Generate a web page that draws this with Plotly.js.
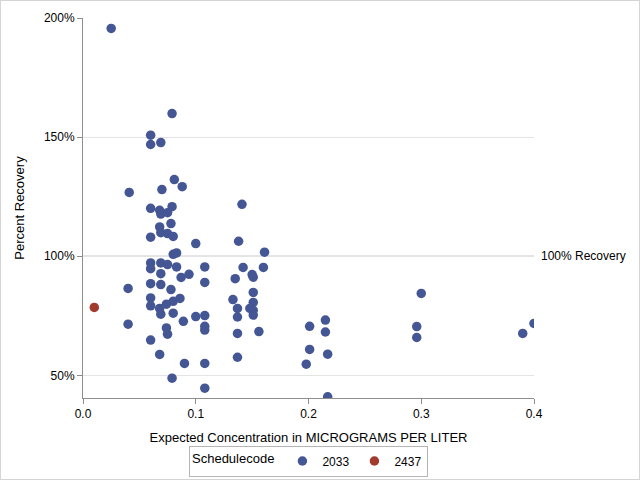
<!DOCTYPE html>
<html>
<head>
<meta charset="utf-8">
<script src="https://cdn.plot.ly/plotly-3.0.1.min.js"></script>
<style>
  html, body { margin: 0; padding: 0; background: #fff; }
  #chart { width: 638px; height: 478px; border: 1px solid #d4d4d4; }
</style>
</head>
<body>
<div id="chart"></div>
<script>
// Schedulecode 2033
const x2033 = [0.025, 0.079, 0.060, 0.060, 0.069, 0.081, 0.088, 0.041, 0.070, 0.141,
  0.060, 0.068, 0.069, 0.075, 0.079, 0.068, 0.078, 0.069, 0.075, 0.080,
  0.060, 0.100, 0.083, 0.080, 0.138, 0.161, 0.060, 0.060, 0.069, 0.075,
  0.083, 0.108, 0.069, 0.087, 0.094, 0.108, 0.060, 0.069, 0.040, 0.078,
  0.060, 0.060, 0.086, 0.080, 0.074, 0.068, 0.069, 0.080, 0.040, 0.089,
  0.100, 0.108, 0.108, 0.108, 0.074, 0.075, 0.060, 0.068, 0.090, 0.108,
  0.079, 0.108, 0.142, 0.160, 0.135, 0.150, 0.151, 0.151, 0.133, 0.151,
  0.137, 0.137, 0.148, 0.151, 0.151, 0.137, 0.156, 0.137, 0.201, 0.215,
  0.215, 0.201, 0.198, 0.217, 0.217, 0.300, 0.296, 0.296, 0.390, 0.400];
const y2033 = [195.6, 159.9, 150.8, 146.9, 147.7, 132.2, 129.2, 126.8, 128.0, 121.8,
  120.1, 119.3, 117.7, 118.3, 120.8, 112.3, 113.7, 109.9, 109.5, 108.3,
  108.0, 105.3, 101.4, 100.8, 106.3, 101.7, 97.2, 94.8, 97.2, 96.5,
  95.5, 95.5, 92.7, 91.1, 92.4, 89.0, 88.5, 88.1, 86.5, 86.0,
  82.5, 79.2, 82.3, 81.1, 79.9, 78.1, 75.7, 76.1, 71.5, 72.7,
  74.7, 75.1, 70.6, 69.0, 69.9, 67.3, 64.8, 58.8, 55.0, 55.0,
  48.8, 44.6, 95.3, 95.3, 90.6, 92.3, 91.2, 84.8, 81.8, 80.6,
  78.1, 74.5, 78.1, 77.3, 75.3, 67.6, 68.4, 57.6, 70.6, 73.2,
  68.2, 60.9, 54.7, 58.9, 41.0, 84.4, 70.5, 65.9, 67.6, 71.8];
// Schedulecode 2437
const x2437 = [0.010];
const y2437 = [78.5];

const seriesNames = ['2033', '2437'];
const seriesColors = ['#445694', '#A23A2E'];
const xTickVals = [0, 0.1, 0.2, 0.3, 0.4];
const xTickText = ['0.0', '0.1', '0.2', '0.3', '0.4'];
const yTickVals = [50, 100, 150, 200];
const yTickText = ['50%', '100%', '150%', '200%'];
const xRange = [0, 0.4];
const yRange = [40.5, 200];
const refValue = 100;
const refLabel = '100% Recovery';

const FONT = 'Liberation Sans, Arial, Helvetica, sans-serif';
const AXIS = '#8e8e8e';

const traces = [
  { x: x2033, y: y2033, name: seriesNames[0], type: 'scatter', mode: 'markers',
    marker: { color: seriesColors[0], size: 9.5, line: { width: 0 } }, cliponaxis: true },
  { x: x2437, y: y2437, name: seriesNames[1], type: 'scatter', mode: 'markers',
    marker: { color: seriesColors[1], size: 9.5, line: { width: 0 } }, cliponaxis: true }
];

const frameAxis = {
  showline: true, linecolor: AXIS, linewidth: 1, mirror: 'all', ticks: '',
  showticklabels: false, showgrid: false, zeroline: false, automargin: false
};

const layout = {
  width: 638, height: 478,
  margin: { l: 82, r: 105, t: 17, b: 81, autoexpand: false },
  paper_bgcolor: '#ffffff', plot_bgcolor: '#ffffff',
  font: { family: FONT, size: 12, color: '#000000' },
  showlegend: true,
  xaxis: {
    range: xRange, tickmode: 'array', tickvals: xTickVals, ticktext: xTickText,
    showline: true, linecolor: AXIS, linewidth: 1, mirror: false,
    ticks: 'outside', ticklen: 5, tickcolor: AXIS,
    showgrid: false, zeroline: false, automargin: false,
    tickfont: { family: FONT, size: 12, color: '#000' },
    title: { text: 'Expected Concentration in MICROGRAMS PER LITER',
             font: { family: FONT, size: 13, color: '#000' }, standoff: 12 }
  },
  yaxis: {
    range: yRange, tickmode: 'array', tickvals: yTickVals, ticktext: yTickText,
    showline: true, linecolor: AXIS, linewidth: 1, mirror: false,
    ticks: 'outside', ticklen: 5, tickcolor: AXIS,
    showgrid: true, gridcolor: '#e4e4e4', gridwidth: 1, zeroline: false, automargin: false,
    tickfont: { family: FONT, size: 12, color: '#000' },
    title: { text: 'Percent Recovery',
             font: { family: FONT, size: 13, color: '#000' }, standoff: 16 }
  },
  xaxis2: Object.assign({ overlaying: 'x', anchor: 'y', side: 'top', range: xRange }, frameAxis),
  yaxis2: Object.assign({ overlaying: 'y', anchor: 'x', side: 'right', range: yRange }, frameAxis),
  shapes: [
    { type: 'line', xref: 'paper', yref: 'y', x0: 0, x1: 1, y0: refValue, y1: refValue,
      line: { color: '#a0a0a0', width: 1 }, layer: 'below' }
  ],
  annotations: [
    { xref: 'paper', yref: 'y', x: 1, y: refValue, xanchor: 'left', yanchor: 'middle',
      xshift: 5, text: refLabel, showarrow: false,
      font: { family: FONT, size: 12, color: '#000' } }
  ],
  legend: {
    orientation: 'h', x: 0.5, xanchor: 'center', y: -0.125, yanchor: 'top',
    bordercolor: '#b5b5b5', borderwidth: 1, bgcolor: '#ffffff',
    font: { family: FONT, size: 12, color: '#000' },
    title: { text: 'Schedulecode', side: 'left', font: { family: FONT, size: 13, color: '#000' } },
    itemwidth: 30, tracegroupgap: 0
  }
};

Plotly.newPlot('chart', traces, layout, { displayModeBar: false, staticPlot: true });
</script>
</body>
</html>
